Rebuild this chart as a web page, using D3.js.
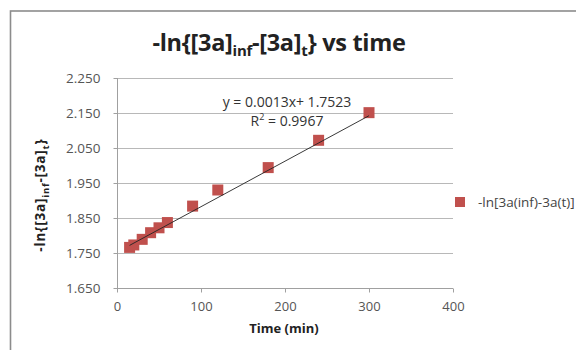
<!DOCTYPE html>
<html><head><meta charset="utf-8">
<script src="https://cdn.jsdelivr.net/npm/d3@7"></script>
<style>body{margin:0;background:#fff}svg{display:block}</style>
</head><body><svg id="c" width="576" height="350"></svg>
<script>
const times = [15, 20, 30, 40, 50, 60, 90, 120, 180, 240, 300];
const values = [1.766, 1.773, 1.789, 1.808, 1.822, 1.837, 1.884, 1.930, 1.994, 2.072, 2.151];
const xTicks = [0, 100, 200, 300, 400];
const yTicks = [1.650, 1.750, 1.850, 1.950, 2.050, 2.150, 2.250];
const slope = 0.0013, intercept = 1.7523;
const eqLabel = "y = 0.0013x+ 1.7523";
const r2Label = "0.9967";
const seriesName = "-ln[3a(inf)-3a(t)]";

const svg = d3.select("#c");
const font = "'Open Sans', sans-serif";
const x = d3.scaleLinear().domain([0, 400]).range([117, 453]);
const y = d3.scaleLinear().domain([1.65, 2.25]).range([288, 78]);

// chart frame
svg.append("rect").attr("x", 10.5).attr("y", 11).attr("width", 600).attr("height", 400)
  .attr("fill", "none").attr("stroke", "#8c8c8c").attr("stroke-width", 1.6);

// gridlines
svg.append("g").selectAll("line").data(yTicks.slice(1)).join("line")
  .attr("x1", x(0)).attr("x2", x(400)).attr("y1", d => Math.round(y(d)) + 0.5).attr("y2", d => Math.round(y(d)) + 0.5)
  .attr("stroke", "#b8b8b8").attr("stroke-width", 1);

// y axis
const yAxis = d3.axisLeft(y).tickValues(yTicks).tickFormat(d3.format(".3f")).tickSize(4).tickPadding(13);
const gy = svg.append("g").attr("transform", `translate(${x(0)+0.5},0)`).call(yAxis);
gy.select(".domain").attr("stroke", "#a0a0a0").attr("d", `M0,${y(2.25)}V${y(1.65)}`);
gy.selectAll(".tick line").attr("stroke", "#a0a0a0");
gy.selectAll("text").attr("font-family", font).attr("font-size", 13.5).attr("fill", "#555");

// x axis
const xAxis = d3.axisBottom(x).tickValues(xTicks).tickSize(4).tickPadding(9);
const gx = svg.append("g").attr("transform", `translate(0,${Math.round(y(1.65))+0.5})`).call(xAxis);
gx.select(".domain").attr("stroke", "#a0a0a0").attr("d", `M${x(0)},0H${x(400)}`);
gx.selectAll(".tick line").attr("stroke", "#a0a0a0");
gx.selectAll("text").attr("font-family", font).attr("font-size", 13).attr("fill", "#555");

// markers
const ms = 11;
svg.append("g").selectAll("rect").data(times.map((t, i) => [t, values[i]])).join("rect")
  .attr("x", d => x(d[0]) - ms/2).attr("y", d => y(d[1]) - ms/2)
  .attr("width", ms).attr("height", ms).attr("fill", "#C0504D");

// trendline
const tMin = d3.min(times), tMax = d3.max(times);
svg.append("line").attr("x1", x(tMin)).attr("y1", y(slope*tMin + intercept))
  .attr("x2", x(tMax)).attr("y2", y(slope*tMax + intercept))
  .attr("stroke", "#222").attr("stroke-width", 0.9);

// equation
svg.append("text").attr("x", 287).attr("y", 107).attr("text-anchor", "middle")
  .attr("font-family", font).attr("font-size", 14).attr("fill", "#333").text(eqLabel);
const r2 = svg.append("text").attr("x", 287).attr("y", 126).attr("text-anchor", "middle")
  .attr("font-family", font).attr("font-size", 14).attr("fill", "#333");
r2.append("tspan").text("R");
r2.append("tspan").attr("dy", -6).attr("font-size", 9).text("2");
r2.append("tspan").attr("dy", 6).text(" = " + r2Label);

// title
const title = svg.append("text").attr("x", 279).attr("y", 51).attr("text-anchor", "middle")
  .attr("font-family", font).attr("font-weight", "bold").attr("font-size", 23.5).attr("fill", "#222")
  .attr("letter-spacing", -0.3);
title.append("tspan").text("-ln{[3a]");
title.append("tspan").attr("dy", 5).attr("font-size", 15).text("inf");
title.append("tspan").attr("dy", -5).text("-[3a]");
title.append("tspan").attr("dy", 5).attr("font-size", 15).text("t");
title.append("tspan").attr("dy", -5).text("} vs time");

// x title
svg.append("text").attr("x", 284).attr("y", 333).attr("text-anchor", "middle")
  .attr("font-family", font).attr("font-weight", "bold").attr("font-size", 13).attr("fill", "#222")
  .text("Time (min)");

// y title
const yt = svg.append("text").attr("transform", "translate(45,195) rotate(-90)").attr("text-anchor", "middle")
  .attr("font-family", font).attr("font-weight", "bold").attr("font-size", 13.5).attr("fill", "#222")
  .attr("letter-spacing", 0.8);
yt.append("tspan").text("-ln{[3a]");
yt.append("tspan").attr("dy", 4).attr("font-size", 9.5).text("inf");
yt.append("tspan").attr("dy", -4).text("-[3a]");
yt.append("tspan").attr("dy", 4).attr("font-size", 9.5).text("t");
yt.append("tspan").attr("dy", -4).text("}");

// legend
svg.append("rect").attr("x", 455).attr("y", 197).attr("width", 10).attr("height", 10).attr("fill", "#C0504D");
svg.append("text").attr("x", 478).attr("y", 207).attr("font-family", font).attr("font-size", 13.5)
  .attr("fill", "#444").text(seriesName);
</script></body></html>
